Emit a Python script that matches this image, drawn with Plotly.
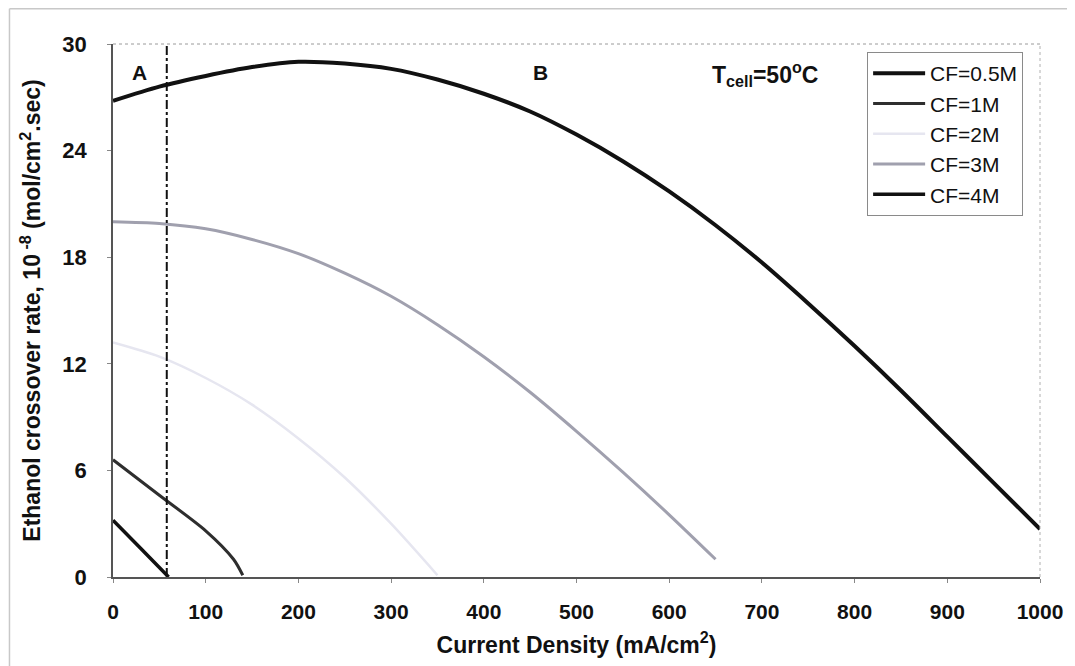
import plotly.graph_objects as go

# ---- data ----
x_05 = [0, 50, 100, 150, 200, 250, 300, 350, 400, 450, 500, 550, 600, 650, 700, 750, 800, 850, 900, 950, 1000]
y_05 = [26.8, 27.6, 28.2, 28.7, 29.0, 28.9, 28.6, 28.0, 27.2, 26.2, 24.9, 23.4, 21.7, 19.8, 17.7, 15.4, 13.0, 10.5, 7.9, 5.3, 2.7]

x_1 = [0, 50, 100, 130, 140]
y_1 = [6.6, 4.6, 2.6, 1.0, 0.1]

x_2 = [0, 50, 100, 150, 200, 250, 300, 350]
y_2 = [13.2, 12.4, 11.2, 9.7, 7.8, 5.6, 3.0, 0.1]

x_3 = [0, 50, 100, 150, 200, 250, 300, 350, 400, 450, 500, 550, 600, 650]
y_3 = [20.0, 19.9, 19.6, 19.0, 18.2, 17.1, 15.8, 14.2, 12.4, 10.4, 8.2, 5.9, 3.5, 1.0]

x_4 = [0, 30, 60]
y_4 = [3.2, 1.6, 0.0]

series_names = ["CF=0.5M", "CF=1M", "CF=2M", "CF=3M", "CF=4M"]
x_ticks = [0, 100, 200, 300, 400, 500, 600, 700, 800, 900, 1000]
y_ticks = [0, 6, 12, 18, 24, 30]
boundary_x = 58  # A/B region boundary

colors = ["#111111", "#2e2e2e", "#e6e6f0", "#a0a0ae", "#111111"]
widths = [4, 3, 2.5, 3, 3.5]

# page body has an 8px margin, so the figure is sized/margined to compensate
W, H = 1067, 658
L, T, R, B = 105, 36, 29, 89
PW, PH = W - L - R, H - T - B

fig = go.Figure()
for xs, ys, name, c, w in zip([x_05, x_1, x_2, x_3, x_4], [y_05, y_1, y_2, y_3, y_4],
                              series_names, colors, widths):
    fig.add_trace(go.Scatter(x=xs, y=ys, mode="lines", name=name,
                             line=dict(color=c, width=w, shape="spline", smoothing=0.8)))

# vertical dash-dot boundary line
fig.add_trace(go.Scatter(x=[boundary_x, boundary_x], y=[0, 30], mode="lines", showlegend=False,
                         line=dict(color="#111111", width=2, dash="dashdot")))

fig.add_annotation(x=29, y=28.4, text="<b>A</b>", showarrow=False,
                   font=dict(family="Arial", size=21, color="#111"))
fig.add_annotation(x=461, y=28.4, text="<b>B</b>", showarrow=False,
                   font=dict(family="Arial", size=21, color="#111"))
fig.add_annotation(x=703, y=28.3, text="<b>T<sub>cell</sub>=50<sup>o</sup>C</b>", showarrow=False,
                   font=dict(family="Arial", size=23, color="#111"))

# outer frame (left/top), at the figure's edge
fx = (0.8 - L) / PW
fy = 1 + (T - 0.8) / PH
fig.add_shape(type="line", xref="paper", yref="paper", x0=fx, x1=1.2, y0=fy, y1=fy,
              line=dict(color="#c8c8c8", width=1.5))
fig.add_shape(type="line", xref="paper", yref="paper", x0=fx, x1=fx, y0=fy, y1=-0.3,
              line=dict(color="#c8c8c8", width=1.5))
# top and right dotted borders of plot area
fig.add_shape(type="line", xref="paper", yref="paper", x0=0, x1=1, y0=1, y1=1,
              line=dict(color="#9a9a9a", width=1, dash="dot"))
fig.add_shape(type="line", xref="paper", yref="paper", x0=1, x1=1, y0=0, y1=1,
              line=dict(color="#b0b0b0", width=1, dash="dot"))

fig.update_layout(
    width=W, height=H,
    margin=dict(l=L, r=R, t=T, b=B),
    paper_bgcolor="white", plot_bgcolor="white",
    font=dict(family="Arial", color="#111"),
    showlegend=True,
    legend=dict(x=0.8135, y=0.985, xanchor="left", yanchor="top",
                bgcolor="white", bordercolor="#8a8a8a", borderwidth=1,
                font=dict(family="Arial", size=21, color="#111"),
                tracegroupgap=0, itemwidth=52),
    xaxis=dict(range=[0, 1000], tickvals=x_ticks, ticktext=[f"<b>{v}</b>" for v in x_ticks],
               showgrid=False, zeroline=False, showline=True, linecolor="#555", linewidth=1.5,
               ticks="outside", ticklen=4, tickcolor="#888", ticklabelstandoff=11,
               tickfont=dict(family="Arial", size=21, color="#111"),
               title=dict(text="<b>Current Density (mA/cm<sup>2</sup>)</b>",
                          font=dict(family="Arial", size=23, color="#111"), standoff=15)),
    yaxis=dict(range=[0, 30], tickvals=y_ticks, ticktext=[f"<b>{v}</b>" for v in y_ticks],
               showgrid=False, zeroline=False, showline=True, linecolor="#555", linewidth=1.5,
               ticks="outside", ticklen=4, tickcolor="#888", ticklabelstandoff=16,
               tickfont=dict(family="Arial", size=22, color="#111"),
               title=dict(text="<b>Ethanol crossover rate, 10<sup> -8</sup> (mol/cm<sup>2</sup>.sec)</b>",
                          font=dict(family="Arial", size=23, color="#111"), standoff=15)),
)

fig.write_html("out.html")
